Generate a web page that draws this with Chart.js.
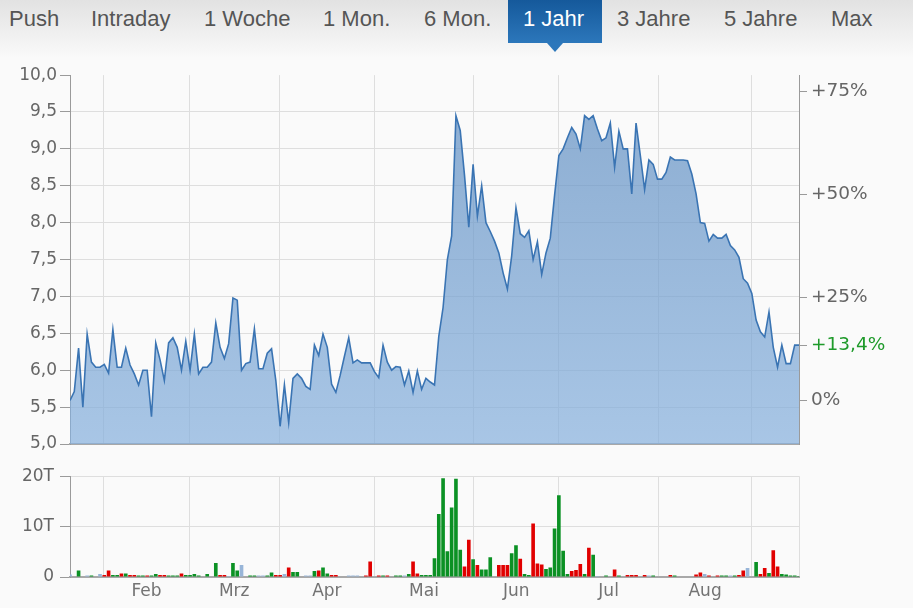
<!DOCTYPE html>
<html lang="de">
<head>
<meta charset="utf-8">
<title>Kurs 1 Jahr</title>
<script src="https://cdn.jsdelivr.net/npm/chart.js@4"></script>
<style>
  html, body { margin: 0; padding: 0; background: #fafafa; }
  #wrap { position: relative; width: 913px; height: 608px; overflow: hidden; background: #fafafa; }
  #tabs { position: absolute; left: 0; top: 0; width: 913px; height: 58px;
    background: linear-gradient(#e2e2e2, #f3f3f3 42px, #fafafa 58px);
    font-family: "Liberation Sans", Arial, sans-serif; font-size: 22px; color: #555; }
  #tabs span { position: absolute; top: 7px; line-height: 24px; white-space: nowrap; }
  #tabs .aktiv-box { position: absolute; left: 508px; top: 0; width: 94px; height: 43px;
    background: linear-gradient(#15599b, #2c77bb); }
  #tabs .pfeil { position: absolute; left: 547px; top: 43px; width: 0; height: 0;
    border-left: 8px solid transparent; border-right: 8px solid transparent; border-top: 9px solid #2c77bb; }
  #tabs .aktiv { color: #fff; }
  #kurs { position: absolute; left: 0; top: 60px; }
  #volumen { position: absolute; left: 0; top: 460px; }
</style>
</head>
<body>
<div id="wrap">
  <div id="tabs">
    <div class="aktiv-box"></div>
    <div class="pfeil"></div>
    <span style="left:9px">Push</span>
    <span style="left:91px">Intraday</span>
    <span style="left:204px">1 Woche</span>
    <span style="left:323px">1 Mon.</span>
    <span style="left:424px">6 Mon.</span>
    <span class="aktiv" style="left:523px">1 Jahr</span>
    <span style="left:617px">3 Jahre</span>
    <span style="left:724px">5 Jahre</span>
    <span style="left:831px">Max</span>
  </div>
  <canvas id="kurs" width="913" height="400"></canvas>
  <canvas id="volumen" width="913" height="148"></canvas>
</div>

<script>
// Monate (Label in der Mitte, Gitterlinie am Monatsanfang, Index = Handelstag)
const months = ["Feb", "Mrz", "Apr", "Mai", "Jun", "Jul", "Aug"];
const monthStarts = [7.9, 27.8, 48.8, 71, 94.1, 114, 137.2, 159];
const lastIndex = 170;

const priceTicks = [5, 5.5, 6, 6.5, 7, 7.5, 8, 8.5, 9, 9.5, 10];
const pctTicks = [0, 25, 50, 75];
const volTicks = [0, 10, 20];

// Schlusskurse
const prices = [
  5.59, 5.71, 6.30, 5.50, 6.49, 6.11, 6.04, 6.04, 6.08, 5.96,
  6.55, 6.04, 6.04, 6.30, 6.07, 5.95, 5.80, 6.00, 6.00, 5.37,
  6.37, 6.14, 5.86, 6.37, 6.44, 6.31, 6.00, 6.39, 6.00, 6.49,
  5.95, 6.04, 6.04, 6.11, 6.64, 6.31, 6.16, 6.36, 6.98, 6.95,
  6.00, 6.09, 6.11, 6.56, 6.02, 6.02, 6.23, 6.29, 5.86, 5.24,
  5.80, 5.29, 5.89, 5.95, 5.89, 5.78, 5.74, 6.34, 6.20, 6.49,
  6.31, 5.81, 5.70, 5.93, 6.19, 6.44, 6.10, 6.14, 6.10, 6.10,
  6.10, 5.98, 5.90, 6.34, 6.11, 6.00, 6.05, 6.04, 5.80, 5.99,
  5.70, 5.99, 5.74, 5.89, 5.84, 5.80, 6.46, 6.85, 7.50, 7.82,
  9.45, 9.25, 8.64, 7.94, 8.79, 8.09, 8.50, 8.00, 7.88, 7.75,
  7.59, 7.32, 7.10, 7.55, 8.20, 7.85, 7.80, 7.89, 7.50, 7.74,
  7.30, 7.59, 7.79, 8.37, 8.91, 9.00, 9.15, 9.29, 9.20, 9.00,
  9.45, 9.40, 9.45, 9.27, 9.11, 9.15, 9.35, 8.75, 9.24, 9.00,
  9.00, 8.39, 9.35, 8.91, 8.45, 8.85, 8.79, 8.59, 8.59, 8.68,
  8.89, 8.85, 8.85, 8.85, 8.84, 8.66, 8.39, 8.00, 7.99, 7.75,
  7.84, 7.79, 7.79, 7.84, 7.69, 7.63, 7.53, 7.24, 7.18, 7.04,
  6.68, 6.52, 6.45, 6.79, 6.31, 6.04, 6.34, 6.09, 6.09, 6.34,
  6.34
];

// Umsatz in Tausend Stueck
const volumes = [
  0.5, 0, 1.3, 0, 0.3, 0.3, 0, 0.6, 0.4, 1.3,
  0.4, 0.4, 0.7, 0.7, 0.4, 0.4, 0.3, 0.3, 0.3, 0.3,
  0.6, 0.4, 0.4, 0.3, 0.3, 0.3, 0.7, 0.4, 0.4, 0.6,
  0.3, 0, 0.6, 0, 2.8, 0.4, 0.4, 0.2, 2.8, 1.3,
  2.4, 0, 0.3, 0.3, 0.3, 0.3, 0.3, 0.9, 0.4, 0.4,
  0.6, 1.9, 1.0, 1.0, 0, 0.3, 0.3, 1.2, 1.3, 1.9,
  0.7, 0.4, 0.4, 0, 0, 0.3, 0.3, 0.3, 0, 0.3,
  3.1, 0, 0.3, 0.3, 0.3, 0, 0.3, 0.3, 0.3, 0.6,
  3.1, 0.7, 0.4, 0.4, 0.4, 3.7, 12.5, 19.6, 5.1, 13.8,
  19.5, 5.4, 2.1, 7.4, 3.5, 2.4, 1.5, 1.5, 3.9, 0,
  2.4, 2.4, 2.4, 4.7, 6.3, 3.6, 0.6, 0.4, 10.6, 2.7,
  2.5, 1.6, 1.9, 9.6, 16.2, 5.2, 0.6, 1.2, 1.4, 2.6,
  0.6, 5.8, 4.4, 0.2, 0, 0.3, 0, 1.5, 0.3, 0,
  0.4, 0.4, 0.4, 0, 0.4, 0.3, 0.3, 0, 0, 0,
  0.4, 0.3, 0, 0, 0, 0, 0.5, 0.9, 0.6, 0.3,
  0, 0.3, 0.3, 0.3, 0.3, 0.3, 0.4, 1.3, 1.8, 0,
  3.0, 0.6, 1.8, 0.8, 5.3, 2.1, 0.6, 0.5, 0.3, 0.3,
  0.2
];

// 1 = gestiegen, -1 = gefallen, 0 = unveraendert
const volDir = [
  0, 0, 1, 0, 0, 1, 0, 0, -1, -1,
  1, 1, -1, 1, -1, -1, 1, 1, -1, 1,
  1, -1, -1, 1, 1, 1, -1, 1, 1, 1,
  1, 0, 1, 0, 1, -1, -1, 0, 1, 1,
  0, 0, 1, 1, 0, 0, 1, 1, -1, -1,
  0, -1, 1, 1, 0, 0, 0, 1, -1, 1,
  1, -1, -1, 0, 0, 0, 0, 0, 0, -1,
  -1, 0, -1, 1, -1, 0, 1, 1, 0, 1,
  -1, -1, 1, 1, 1, 1, 1, 1, 1, 1,
  1, 1, -1, -1, 1, -1, 1, 1, 1, 0,
  -1, -1, -1, 1, 1, -1, 1, 1, -1, -1,
  -1, 1, 1, 1, 1, 1, 1, -1, -1, -1,
  1, -1, 1, 0, 0, 1, 0, -1, 1, 0,
  -1, -1, -1, 0, -1, 0, 1, 0, 0, 0,
  -1, 1, 0, 0, 0, 0, -1, -1, 0, -1,
  0, -1, 1, 1, 0, 1, -1, -1, 0, 0,
  1, -1, -1, 1, -1, -1, 1, 1, 1, 1,
  1
];

const basePrice = prices[0];
const lastPct = Math.round((prices[prices.length - 1] / basePrice - 1) * 1000) / 10;
const monthMids = months.map((m, i) => (monthStarts[i] + monthStarts[i + 1]) / 2);

Chart.defaults.font.family = '"DejaVu Sans", Verdana, sans-serif';
Chart.defaults.font.size = 17;

const gridFarbe = "#dedede";
const achsenFarbe = "#9a9a9a";

function fillVerlauf(ctx) {
  const area = ctx.chart.chartArea;
  if (!area) return "rgba(110,155,205,0.7)";
  const g = ctx.chart.ctx.createLinearGradient(0, area.top, 0, area.bottom);
  g.addColorStop(0, "rgba(95,141,192,0.72)");
  g.addColorStop(1, "rgba(136,177,221,0.72)");
  return g;
}

function pctLabel(v) {
  if (v === 0) return "0%";
  return "+" + String(v).replace(".", ",") + "%";
}

new Chart(document.getElementById("kurs"), {
  type: "line",
  data: {
    datasets: [{
      data: prices.map((p, i) => ({ x: i, y: p })),
      borderColor: "#3a74b3",
      borderWidth: 1.6,
      pointRadius: 0,
      tension: 0,
      fill: "start",
      backgroundColor: fillVerlauf
    }]
  },
  options: {
    responsive: false,
    animation: false,
    events: [],
    layout: { padding: { top: 14, bottom: 16, left: 0, right: 0 } },
    plugins: { legend: { display: false }, tooltip: { enabled: false } },
    scales: {
      x: {
        type: "linear", min: 0, max: lastIndex,
        afterBuildTicks: s => { s.ticks = monthStarts.map(v => ({ value: v })); },
        ticks: { display: false },
        grid: { color: gridFarbe, drawTicks: false },
        border: { display: true, color: "#a8a8a8", width: 2 },
        afterFit: s => { s.height = 0; }
      },
      y: {
        position: "left", min: 5, max: 10,
        afterBuildTicks: s => { s.ticks = priceTicks.map(v => ({ value: v })); },
        ticks: { color: "#666", padding: 3, callback: v => v.toFixed(1).replace(".", ",") },
        grid: { color: c => c.tick && c.tick.value === 10 ? "rgba(0,0,0,0)" : gridFarbe, tickColor: achsenFarbe, tickLength: 10 },
        border: { color: achsenFarbe, width: 1 },
        afterFit: s => { s.width = 70; }
      },
      y2: {
        position: "right",
        min: (5 / basePrice - 1) * 100,
        max: (10 / basePrice - 1) * 100,
        afterBuildTicks: s => { s.ticks = pctTicks.concat([lastPct]).sort((a, b) => a - b).map(v => ({ value: v })); },
        ticks: {
          padding: 4,
          font: { size: 18.5 },
          color: c => c.tick && c.tick.value === lastPct ? "#1e9a2a" : "#666",
          callback: v => pctLabel(v)
        },
        grid: { drawOnChartArea: false, tickColor: achsenFarbe, tickLength: 8 },
        border: { color: achsenFarbe, width: 1 },
        afterFit: s => { s.width = 114; }
      }
    }
  }
});

new Chart(document.getElementById("volumen"), {
  type: "bar",
  data: {
    datasets: [{
      data: volumes.map((v, i) => ({ x: i, y: v })),
      backgroundColor: volDir.map(d => d > 0 ? "#0b9124" : d < 0 ? "#e10000" : "#98b5d8"),
      borderWidth: 0,
      barPercentage: 0.85,
      categoryPercentage: 1
    }]
  },
  options: {
    responsive: false,
    animation: false,
    events: [],
    layout: { padding: { top: 12, right: 114, left: 0, bottom: 0 } },
    plugins: { legend: { display: false }, tooltip: { enabled: false } },
    scales: {
      x: {
        type: "linear", min: 0, max: lastIndex, offset: false,
        afterBuildTicks: s => {
          s.ticks = monthStarts.concat(monthMids, [lastIndex]).sort((a, b) => a - b).map(v => ({ value: v }));
        },
        ticks: {
          autoSkip: false, maxRotation: 0, color: "#737373", padding: 4,
          callback: v => { const k = monthMids.indexOf(v); return k < 0 ? "" : months[k]; }
        },
        grid: { offset: false, drawTicks: false, color: c => c.tick && monthMids.includes(c.tick.value) ? "rgba(0,0,0,0)" : gridFarbe },
        border: { color: "#a8a8a8", width: 2 },
        afterFit: s => { s.height = 31; }
      },
      y: {
        min: 0, max: 20,
        afterBuildTicks: s => { s.ticks = volTicks.map(v => ({ value: v })); },
        ticks: { color: "#666", padding: 6, callback: v => v === 0 ? "0" : v + "T" },
        grid: { color: gridFarbe, tickColor: achsenFarbe, tickLength: 10 },
        border: { color: achsenFarbe, width: 1 },
        afterFit: s => { s.width = 70; }
      }
    }
  }
});
</script>
</body>
</html>
